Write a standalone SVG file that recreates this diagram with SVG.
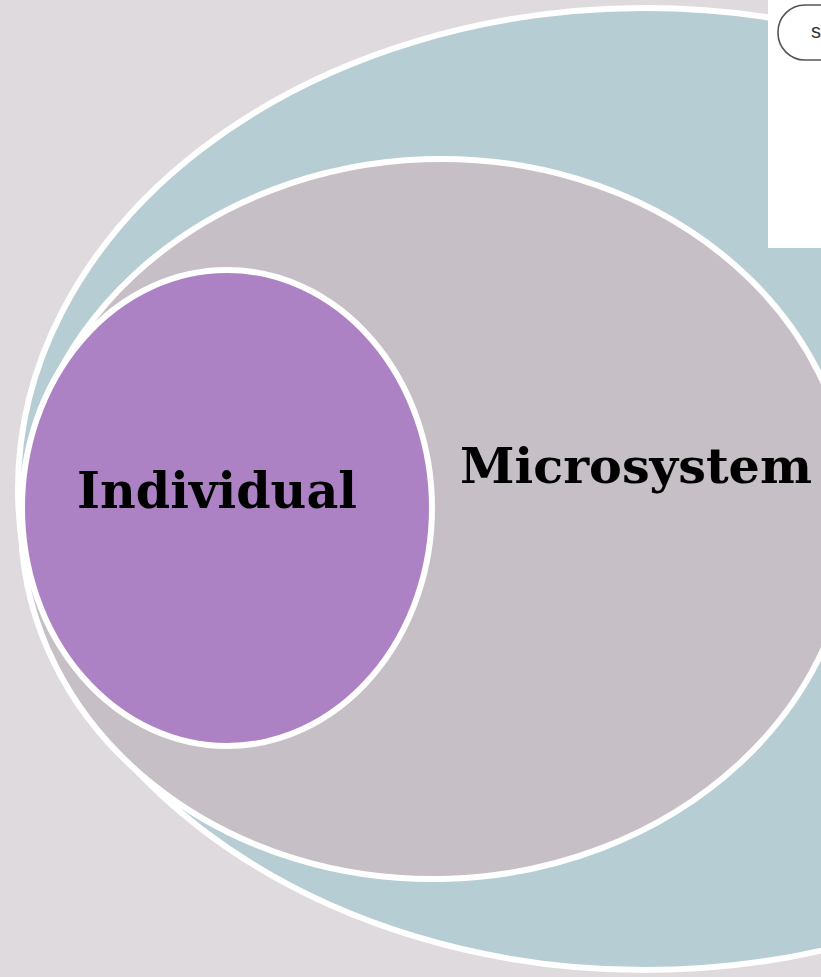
<svg xmlns="http://www.w3.org/2000/svg" width="821" height="977" viewBox="0 0 821 977">
<style>
.ring{stroke:#ffffff;stroke-width:6}
.lbl{font-family:"DejaVu Serif","Liberation Serif",serif;font-weight:bold;fill:#000000}
</style>
<rect x="0" y="0" width="821" height="977" fill="#dedadd"/>
<g id="exosystem">
<ellipse class="ring" cx="645" cy="489" rx="627" ry="481" fill="#b6cdd4"/>
</g>
<g id="microsystem">
<ellipse class="ring" cx="437" cy="519" rx="416" ry="360" fill="#c6bfc6" transform="rotate(-2 437 519)"/>
<text class="lbl" x="460" y="483" font-size="48" textLength="352" lengthAdjust="spacingAndGlyphs">Microsystem</text>
</g>
<g id="individual">
<ellipse class="ring" cx="227" cy="508" rx="205" ry="238" fill="#ad82c4"/>
<text class="lbl" x="77" y="508" font-size="50" textLength="280" lengthAdjust="spacingAndGlyphs">Individual</text>
</g>
<g id="panel">
<rect x="768" y="0" width="53" height="248" fill="#ffffff"/>
<rect x="778" y="5" width="80" height="55" rx="27" ry="27" fill="#ffffff" stroke="#555555" stroke-width="1.6"/>
<text x="811" y="38" font-family="Liberation Sans, Arial, sans-serif" font-size="20" fill="#333333">s</text>
</g>
<g id="connectors"></g>
</svg>
